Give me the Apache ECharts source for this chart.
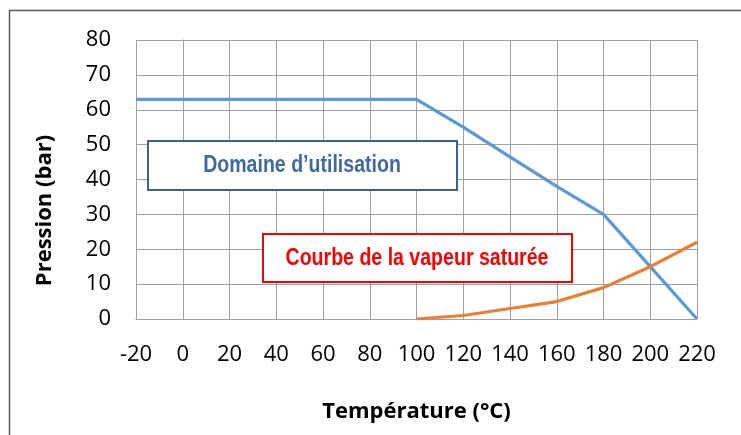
<!DOCTYPE html>
<html>
<head>
<meta charset="utf-8">
<script src="https://cdn.jsdelivr.net/npm/echarts@6/dist/echarts.min.js"></script>
<style>
html,body{margin:0;padding:0;background:#fff;}
#c{width:741px;height:435px;}
</style>
</head>
<body>
<div id="c"></div>
<script>
const temperatures = [-20, 0, 20, 40, 60, 80, 100, 120, 140, 160, 180, 200, 220];
const domaineValues = [63, 63, 63, 63, 63, 63, 63, 55, 46.5, 38, 30, 15, 0];
const vapeurTemps = [100, 120, 140, 160, 180, 200, 220];
const vapeurValues = [0, 1, 3, 5, 9, 15, 22];
const xTitle = 'Température (°C)';
const yTitle = 'Pression (bar)';
const label1 = 'Domaine d\u2019utilisation';
const label2 = 'Courbe de la vapeur saturée';

const chart = echarts.init(document.getElementById('c'), null, {renderer: 'canvas'});
const axisFont = '"Open Sans", sans-serif';
const boxFont = 'bold 23px "Liberation Sans", Arial, sans-serif';
chart.setOption({
  animation: false,
  backgroundColor: '#fff',
  grid: {left: 136, right: 44, top: 40, bottom: 116, containLabel: false},
  xAxis: {
    type: 'value', min: -20, max: 220, interval: 20,
    axisLine: {show: true, lineStyle: {color: '#a0a0a0', width: 1}},
    axisTick: {show: false},
    splitLine: {show: true, lineStyle: {color: '#a0a0a0', width: 1}},
    axisLabel: {color: '#000', fontFamily: axisFont, fontSize: 22, margin: 25},
    name: xTitle, nameLocation: 'middle', nameGap: 82,
    nameTextStyle: {color: '#000', fontFamily: axisFont, fontWeight: 'bold', fontSize: 22}
  },
  yAxis: {
    type: 'value', min: 0, max: 80, interval: 10,
    axisLine: {show: true, lineStyle: {color: '#a0a0a0', width: 1}},
    axisTick: {show: false},
    splitLine: {show: true, lineStyle: {color: '#a0a0a0', width: 1}},
    axisLabel: {color: '#000', fontFamily: axisFont, fontSize: 22, margin: 25},
    name: yTitle, nameLocation: 'middle', nameGap: 80, nameRotate: 90,
    nameTextStyle: {color: '#000', fontFamily: axisFont, fontWeight: 'bold', fontSize: 22, padding: [0, 62, 0, 0]}
  },
  series: [
    {
      type: 'line', symbol: 'none', z: 3,
      lineStyle: {color: '#5b9bd5', width: 3.2},
      data: temperatures.map((t, i) => [t, domaineValues[i]])
    },
    {
      type: 'line', symbol: 'none', z: 4,
      lineStyle: {color: '#ed7d31', width: 3.2},
      data: vapeurTemps.map((t, i) => [t, vapeurValues[i]])
    }
  ],
  graphic: [
    {type: 'rect', silent: true, z: 0, shape: {x: 9.5, y: 10.5, width: 800, height: 500},
     style: {fill: 'none', stroke: '#595959', lineWidth: 1.5}},
    {type: 'rect', z: 10, shape: {x: 148, y: 141, width: 309, height: 49},
     style: {fill: '#fff', stroke: '#3a6296', lineWidth: 2}},
    {type: 'text', z: 11, x: 302, y: 166, scaleX: 0.85,
     style: {text: label1, fill: '#3e6aa2', font: boxFont, align: 'center', verticalAlign: 'middle'}},
    {type: 'rect', z: 10, shape: {x: 263, y: 234, width: 309, height: 48},
     style: {fill: '#fff', stroke: '#ff0000', lineWidth: 2}},
    {type: 'text', z: 11, x: 417, y: 259, scaleX: 0.85,
     style: {text: label2, fill: '#ff0000', font: boxFont, align: 'center', verticalAlign: 'middle'}}
  ]
});
</script>
</body>
</html>
